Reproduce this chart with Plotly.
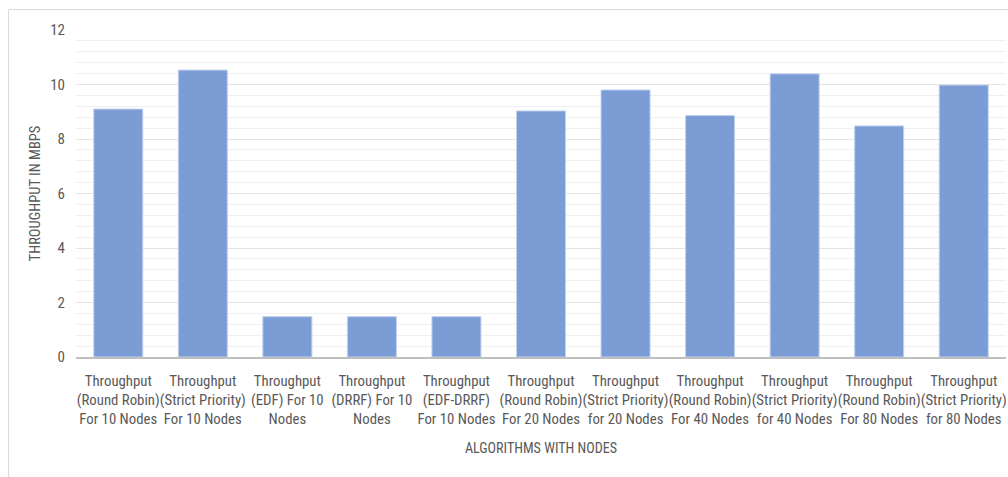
import plotly.graph_objects as go

categories = [
    "Throughput<br>(Round Robin)<br>For 10 Nodes",
    "Throughput<br>(Strict Priority)<br>For 10 Nodes",
    "Throughput<br>(EDF) For 10<br>Nodes",
    "Throughput<br>(DRRF) For 10<br>Nodes",
    "Throughput<br>(EDF-DRRF)<br>For 10 Nodes",
    "Throughput<br>(Round Robin)<br>For 20 Nodes",
    "Throughput<br>(Strict Priority)<br>for 20 Nodes",
    "Throughput<br>(Round Robin)<br>For 40 Nodes",
    "Throughput<br>(Strict Priority)<br>for 40 Nodes",
    "Throughput<br>(Round Robin)<br>For 80 Nodes",
    "Throughput<br>(Strict Priority)<br>for 80 Nodes",
]
throughput = [9.1, 10.53, 1.48, 1.48, 1.48, 9.03, 9.8, 8.86, 10.39, 8.48, 9.98]
y_ticks = [0, 2, 4, 6, 8, 10, 12]

FONT = "Liberation Sans Narrow, Roboto Condensed, Roboto, sans-serif"
TXT = "#595959"

fig = go.Figure()
fig.add_trace(go.Bar(
    x=categories, y=throughput,
    marker=dict(color="rgb(124,156,214)", line=dict(color="#c3d2ee", width=1)),
))

fig.update_layout(
    width=1008, height=477,
    margin=dict(l=75.5, r=2, t=30, b=120),
    paper_bgcolor="white", plot_bgcolor="white",
    bargap=0.42,
    showlegend=False,
    font=dict(family=FONT, color=TXT, size=14),
    shapes=[dict(type="rect", xref="paper", yref="paper",
                 x0=-0.0725, x1=1.05, y0=-0.6, y1=1.0627,
                 line=dict(color="#d9d9d9", width=1), fillcolor="rgba(0,0,0,0)", layer="below")],
)
fig.update_xaxes(
    tickfont=dict(size=14.8, family=FONT, color=TXT),
    tickangle=0,
    ticklabelstandoff=9,
    showline=True, linecolor="#bfbfbf", linewidth=1.5,
    showgrid=False, ticks="",
    title=dict(text="ALGORITHMS WITH NODES", font=dict(size=14.1, family=FONT, color=TXT), standoff=16),
)
fig.update_yaxes(
    range=[0, 12], tickvals=y_ticks,
    tickfont=dict(size=15, family=FONT, color=TXT),
    showgrid=True, gridcolor="#e4e4e4", gridwidth=1,
    minor=dict(dtick=0.4, showgrid=True, gridcolor="#f0f0f0", gridwidth=1),
    zeroline=False, showline=False, ticks="",
    ticklabelstandoff=10,
    title=dict(text="THROUGHPUT IN MBPS", font=dict(size=14.5, family=FONT, color=TXT), standoff=6),
)

fig.write_html("out.html")
